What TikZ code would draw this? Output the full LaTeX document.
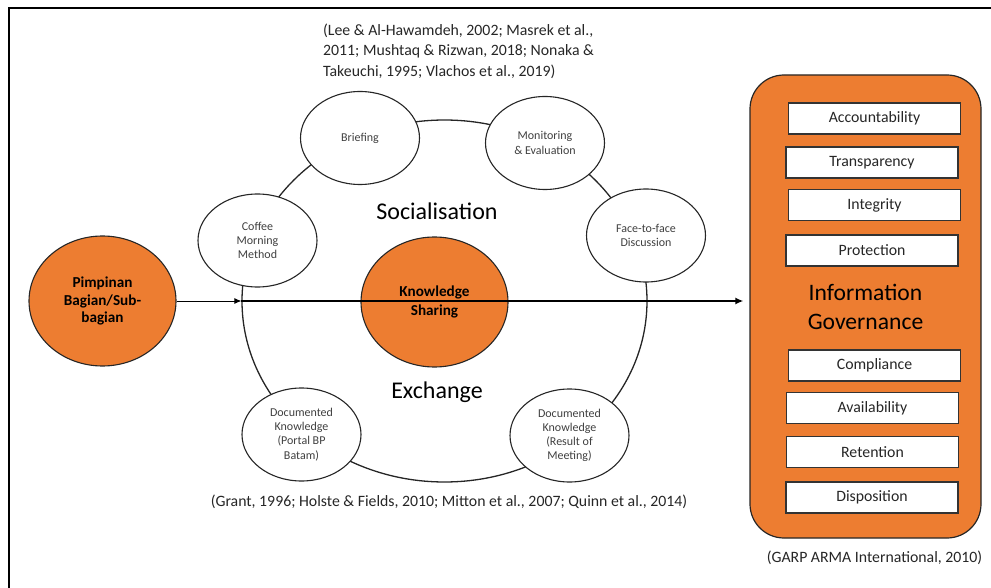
\documentclass[tikz,border=0pt]{standalone}
\usepackage{fontspec}
\setmainfont{Carlito}
\usetikzlibrary{arrows.meta,positioning,shapes.geometric}
\definecolor{GovOrange}{HTML}{ED7D31}
\definecolor{GovInk}{HTML}{262626}
\definecolor{GovGrey}{HTML}{404040}

\tikzset{
  practice/.style={ellipse,draw=black!85,fill=white,line width=1.1pt,
    minimum width=119pt,minimum height=93pt,inner sep=0pt,align=center,
    text=GovGrey,font=\fontsize{12}{14.2}\selectfont},
  hub/.style={ellipse,draw=black!85,fill=GovOrange,line width=1.1pt,
    minimum width=147pt,minimum height=130pt,inner sep=0pt,align=center,
    text=black,font=\bfseries\fontsize{15.2}{17.6}\selectfont},
  principle/.style={rectangle,draw=black!80,fill=white,line width=1.4pt,
    minimum width=172pt,minimum height=31pt,inner sep=0pt,
    text=GovInk,font=\fontsize{15.8}{17}\selectfont},
  cite/.style={inner sep=0pt,text=GovInk,font=\fontsize{15.8}{20.5}\selectfont},
  mode/.style={text=black,font=\fontsize{24}{28}\selectfont}
}

\begin{document}
\begin{tikzpicture}[x=1pt,y=-1pt]

        \useasboundingbox (0,0) rectangle (991,588);
        \draw[line width=2pt] (8.5,588) -- (8.5,8.5) -- (991,8.5);

        % ring of practices
        \node[ellipse,draw=black!85,line width=1.3pt,minimum width=405pt,
          minimum height=362pt,inner sep=0pt] (ring) at (444.5,301) {};

        \node[practice] (briefing) at (360,138) {Briefing};
        \node[practice] (monitoring) at (545,143) {Monitoring\\\& Evaluation};
        \node[practice] (coffee) at (257.5,240.5) {Coffee\\Morning\\Method};
        \node[practice] (facetoface) at (646,235.5) {Face-to-face\\Discussion};
        \node[practice] (portal) at (301.5,434.5)
          {Documented\\Knowledge\\(Portal BP\\Batam)};
        \node[practice] (meeting) at (569.5,435.5)
          {Documented\\Knowledge\\(Result of\\Meeting)};

        \node[mode] (socialisation) at (437,211) {Socialisation};
        \node[mode] (exchange) at (437,392) {Exchange};

        \node[hub] (lead) at (102.5,301) {Pimpinan\\Bagian/Sub-\\bagian};
        \node[hub,font=\bfseries\fontsize{15.2}{19}\selectfont]
          (sharing) at (434.5,302) {Knowledge\\Sharing};

        % governance panel
        \node[rectangle,rounded corners=34pt,draw=black!85,fill=GovOrange,
          line width=1.2pt,minimum width=231pt,minimum height=463pt,
          align=center,text=black,font=\fontsize{23.6}{29}\selectfont]
          (panel) at (865.5,306.5) {Information\\Governance};

        \node[principle] (accountability) at (874.5,118.5) {Accountability};
        \node[principle] (transparency) at (872,162.5) {Transparency};
        \node[principle] (integrity) at (874.5,205) {Integrity};
        \node[principle] (protection) at (872,250.5) {Protection};
        \node[principle] (compliance) at (874.5,365.5) {Compliance};
        \node[principle] (availability) at (872.5,408) {Availability};
        \node[principle] (retention) at (872.5,452) {Retention};
        \node[principle] (disposition) at (872,497.5) {Disposition};

        % sources
        \node[cite,anchor=west,align=left] (citeTop) at (323,51)
          {(Lee \& Al-Hawamdeh, 2002; Masrek et al.,\\
           2011; Mushtaq \& Rizwan, 2018; Nonaka \&\\
           Takeuchi, 1995; Vlachos et al., 2019)};
        \node[cite] (citeBottom) at (449,502)
          {(Grant, 1996; Holste \& Fields, 2010; Mitton et al., 2007; Quinn et al., 2014)};
        \node[cite] (citeGarp) at (874.5,558) {(GARP ARMA International, 2010)};

        % flow
        \draw[-{Latex[length=7pt,width=6pt]},line width=0.8pt]
          (lead.east) -- (ring.west);
        \draw[-{Latex[length=8pt,width=7pt]},line width=1.6pt,shorten >=6pt]
          (ring.west) -- (ring.west -| panel.west);

      \end{tikzpicture}
\end{document}
